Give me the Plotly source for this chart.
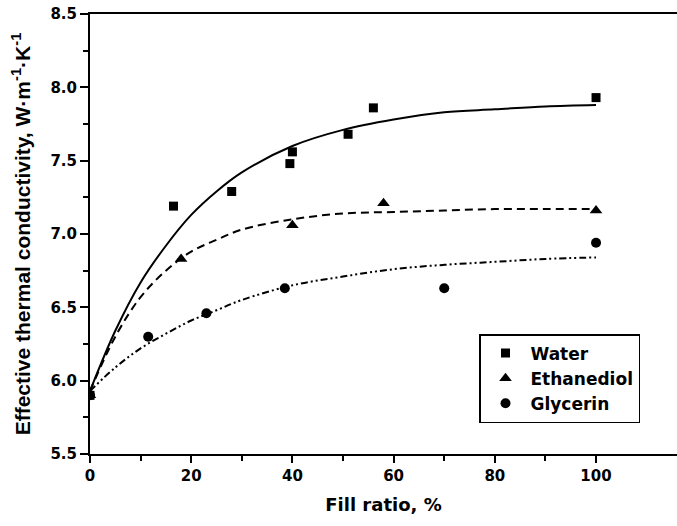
import plotly.graph_objects as go

# Measured points
water_x = [0, 16.5, 28, 39.5, 40, 51, 56, 100]
water_y = [5.90, 7.19, 7.29, 7.48, 7.56, 7.68, 7.86, 7.93]
eth_x = [0, 18, 40, 58, 100]
eth_y = [5.90, 6.83, 7.06, 7.21, 7.16]
gly_x = [0, 11.5, 23, 38.5, 70, 100]
gly_y = [5.90, 6.30, 6.46, 6.63, 6.63, 6.94]

# Fitted curves
fit_x = [0, 5, 10, 15, 20, 25, 30, 40, 50, 60, 70, 80, 90, 100]
water_fit = [5.93, 6.34, 6.67, 6.92, 7.13, 7.29, 7.42, 7.60, 7.71, 7.78, 7.83, 7.85, 7.87, 7.88]
eth_fit = [5.93, 6.30, 6.57, 6.75, 6.88, 6.96, 7.03, 7.10, 7.14, 7.15, 7.16, 7.17, 7.17, 7.17]
gly_fit = [5.93, 6.09, 6.22, 6.32, 6.41, 6.48, 6.55, 6.65, 6.71, 6.76, 6.79, 6.81, 6.83, 6.84]

x_ticks = [0, 20, 40, 60, 80, 100]
x_minor = [10, 30, 50, 70, 90]
y_ticks = [5.5, 6.0, 6.5, 7.0, 7.5, 8.0, 8.5]
y_minor = [5.75, 6.25, 6.75, 7.25, 7.75, 8.25]

WIDE = "DejaVu Sans, sans-serif"
NARROW = "Liberation Sans, Arial, sans-serif"

fig = go.Figure()
fig.add_trace(go.Scatter(x=fit_x, y=water_fit, mode="lines",
                         line=dict(color="black", width=2, shape="spline"),
                         showlegend=False, hoverinfo="skip"))
fig.add_trace(go.Scatter(x=fit_x, y=eth_fit, mode="lines",
                         line=dict(color="black", width=2, dash="8px,5px", shape="spline"),
                         showlegend=False, hoverinfo="skip"))
fig.add_trace(go.Scatter(x=fit_x, y=gly_fit, mode="lines",
                         line=dict(color="black", width=2, dash="7px,3px,2px,3px,2px,3px", shape="spline"),
                         showlegend=False, hoverinfo="skip"))

fig.add_trace(go.Scatter(x=water_x, y=water_y, mode="markers", name="Water",
                         marker=dict(symbol="square", size=9, color="black")))
fig.add_trace(go.Scatter(x=eth_x, y=eth_y, mode="markers", name="Ethanediol",
                         marker=dict(symbol="triangle-up", size=11, color="black")))
fig.add_trace(go.Scatter(x=gly_x, y=gly_y, mode="markers", name="Glycerin",
                         marker=dict(symbol="circle", size=10, color="black")))

fig.update_layout(
    width=677, height=526,
    margin=dict(l=90, r=0, t=14, b=72),
    plot_bgcolor="white", paper_bgcolor="white",
    font=dict(family=WIDE, size=15, color="black"),
    legend=dict(x=0.6627, y=0.2727, xanchor="left", yanchor="top",
                bordercolor="black", borderwidth=1.5, bgcolor="white",
                font=dict(family=WIDE, size=17, color="black", weight="bold"),
                itemwidth=40, tracegroupgap=0),
)
fig.update_xaxes(
    range=[0, 116], tickvals=x_ticks, automargin=False, ticklabeloverflow="allow",
    ticks="outside", ticklen=7, tickwidth=2, tickcolor="black",
    minor=dict(tickvals=x_minor, ticks="outside", ticklen=5, tickwidth=2, tickcolor="black"),
    showline=True, linewidth=2, linecolor="black", mirror=True,
    showgrid=False, zeroline=False,
    tickfont=dict(family=WIDE, size=15, color="black", weight="bold"),
    title=dict(text="Fill ratio, %", font=dict(family=WIDE, size=18, weight="bold"), standoff=14),
)
fig.update_yaxes(
    range=[5.5, 8.5], tickvals=y_ticks, tickformat=".1f", automargin=False, ticklabeloverflow="allow",
    ticks="outside", ticklen=8, tickwidth=2, tickcolor="black",
    minor=dict(tickvals=y_minor, ticks="outside", ticklen=5, tickwidth=2, tickcolor="black"),
    showline=True, linewidth=2, linecolor="black",
    showgrid=False, zeroline=False,
    tickfont=dict(family=WIDE, size=15, color="black", weight="bold"),
    title=dict(text="Effective thermal conductivity, W·m<sup>-1</sup>·K<sup>-1</sup>",
               font=dict(family=NARROW, size=21, weight="bold"), standoff=14),
)

# remove the page's default 8px body margin so the figure fills the window exactly
fig.write_html("out.html", config={"displayModeBar": False},
               post_script="document.body.style.margin='0';document.body.style.overflow='hidden';")
